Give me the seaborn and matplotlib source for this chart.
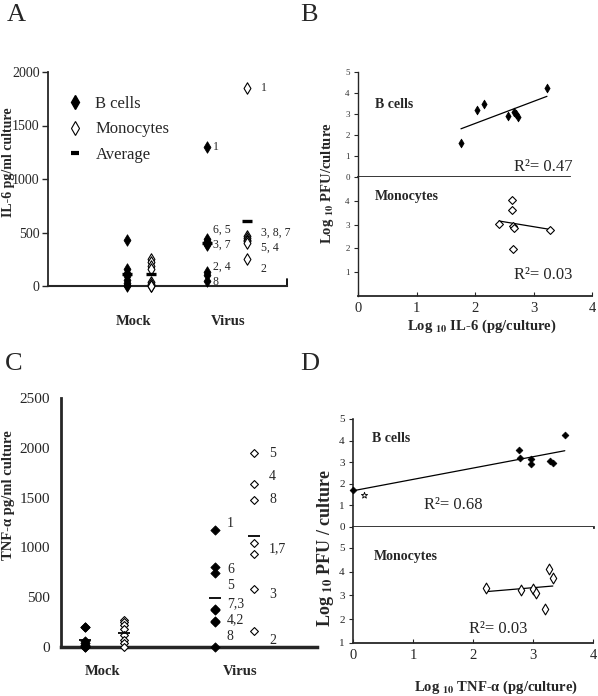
import matplotlib
matplotlib.use("Agg")
import matplotlib.pyplot as plt
from matplotlib.lines import Line2D
import numpy as np
import pandas as pd
import seaborn as sns

sns.set_style("ticks")
plt.rcParams["font.family"] = ["Liberation Serif", "DejaVu Serif"]
plt.rcParams["mathtext.fontset"] = "stix"
plt.rcParams["mathtext.default"] = "bf"

W, H = 598, 696

# ---- A: IL-6 pg/ml culture ----
il6_mock_b = [430, 160, 120, 90, 60, 30, 10, 0]
il6_mock_mono = [250, 220, 190, 160, 40, 20, 0, 0]
il6_virus_b = [1300, 440, 420, 390, 380, 130, 100, 50]
il6_virus_mono = [1850, 470, 450, 430, 420, 400, 250]
il6_b_tags = ["1", "6, 5", "3, 7", "2, 4", "8"]
il6_mono_tags = ["1", "3, 8, 7", "5, 4", "2"]

# ---- C: TNF-alpha pg/ml culture ----
tnf_mock_b = [205, 200, 60, 40, 20, 10, 0, 0]
tnf_mock_mono = [270, 250, 220, 180, 120, 70, 40, 0]
tnf_virus_b = [1175, 800, 740, 380, 370, 260, 250, 0]
tnf_virus_mono = [1950, 1640, 1480, 1040, 930, 580, 160]
tnf_b_tags = ["1", "6", "5", "7,3", "4,2", "8"]
tnf_mono_tags = ["5", "4", "8", "1,7", "3", "2"]

# ---- B: log PFU vs log IL-6 ----
b_il6_x = [1.76, 2.03, 2.15, 2.57, 2.66, 2.70, 2.74, 3.23]
b_il6_y = [1.63, 3.19, 3.50, 2.90, 3.10, 3.00, 2.88, 4.22]
m_il6_x = [2.41, 2.64, 2.64, 2.65, 2.66, 2.65, 3.28]
m_il6_y = [3.03, 4.03, 3.61, 2.96, 2.85, 1.97, 2.78]

# ---- D: log PFU vs log TNF-alpha ----
b_tnf_x = [0.0, 2.76, 2.78, 2.96, 2.96, 3.29, 3.33, 3.53]
b_tnf_y = [1.69, 3.55, 3.19, 3.15, 2.92, 3.04, 2.96, 4.27]
m_tnf_x = [2.22, 2.80, 3.00, 3.05, 3.20, 3.26, 3.33]
m_tnf_y = [3.32, 3.22, 3.29, 3.12, 2.44, 4.13, 3.74]
star_x = [0.19]
star_y = [1.49]


def rect(x0, y0, x1, y1):
    return [x0 / W, 1 - y1 / H, (x1 - x0) / W, (y1 - y0) / H]


def fxy(x, y):
    return x / W, 1 - y / H


fig = plt.figure(figsize=(W / 100, H / 100), dpi=100)


def dot_panel(ax, groups, xpos, marker, s_b, s_m, avg_size, avg_lw):
    rows = []
    for (grp, cell), vals in groups.items():
        for v in vals:
            rows.append((grp, cell, v))
    df = pd.DataFrame(rows, columns=["group", "cell", "value"])
    df["x"] = [xpos[(g, c)] for g, c in zip(df["group"], df["cell"])]
    avg = df.groupby(["group", "cell"], as_index=False)["value"].mean()
    avg["x"] = [xpos[(g, c)] for g, c in zip(avg["group"], avg["cell"])]
    sns.scatterplot(data=df[df["cell"] == "B cells"], x="x", y="value", marker=marker,
                    s=s_b, color="black", edgecolor="black", linewidth=0.6,
                    clip_on=False, zorder=3, legend=False, ax=ax)
    sns.scatterplot(data=df[df["cell"] == "Monocytes"], x="x", y="value", marker=marker,
                    s=s_m, color="white", edgecolor="black", linewidth=0.8,
                    clip_on=False, zorder=3, legend=False, ax=ax)
    ax.scatter(avg["x"], avg["value"], marker="_", s=avg_size, linewidths=avg_lw,
               color="black", zorder=4, clip_on=False)
    sns.despine(ax=ax)


# ---------------- panel A ----------------
axA = fig.add_axes(rect(48, 72, 287, 286))
posA = {("Mock", "B cells"): 3.3, ("Mock", "Monocytes"): 4.31,
        ("Virus", "B cells"): 6.65, ("Virus", "Monocytes"): 8.33}
dot_panel(axA, {("Mock", "B cells"): il6_mock_b, ("Mock", "Monocytes"): il6_mock_mono,
                ("Virus", "B cells"): il6_virus_b, ("Virus", "Monocytes"): il6_virus_mono},
          posA, "d", 34, 34, 50, 2.4)
axA.set_xlim(0, 10)
axA.set_ylim(0, 2000)
axA.set_yticks([0, 500, 1000, 1500, 2000])
axA.tick_params(axis="y", length=4, width=1, labelsize=10, pad=2)
axA.set_xticks([3.6, 7.55], ["Mock", "Virus"], fontweight="bold", fontsize=10.5)
axA.tick_params(axis="x", length=0, pad=21)
axA.spines["left"].set_linewidth(1.3)
axA.spines["bottom"].set_linewidth(1.5)
axA.axvline(10, ymin=0, ymax=0.035, color="black", lw=1.3, clip_on=False)
axA.set_xlabel("")
axA.set_ylabel("IL-6 pg/ml culture", fontweight="bold", fontsize=10)
axA.yaxis.set_label_coords(-0.14, 0.58)
for lab, y in zip(il6_b_tags, [1300, 523, 383, 178, 37]):
    axA.text(6.9, y, lab, fontsize=8.5, va="center")
for lab, y in zip(il6_mono_tags, [1850, 495, 355, 159]):
    axA.text(8.9, y, lab, fontsize=8.5, va="center")
handles = [Line2D([], [], marker="d", ls="", color="black", ms=7),
           Line2D([], [], marker="d", ls="", mfc="white", mec="black", mew=0.8, ms=7),
           Line2D([], [], marker="_", ls="", color="black", ms=6, mew=3)]
axA.legend(handles, ["B cells", "Monocytes", "Average"], loc="upper left",
           bbox_to_anchor=(0.08, 0.887), frameon=False, fontsize=12,
           handlelength=1, handletextpad=0.7, labelspacing=0.55,
           borderpad=0, borderaxespad=0)

# ---------------- panel C ----------------
axC = fig.add_axes(rect(61, 398, 317, 647))
posC = {("Mock", "B cells"): 0.94, ("Mock", "Monocytes"): 2.46,
        ("Virus", "B cells"): 6.02, ("Virus", "Monocytes"): 7.54}
dot_panel(axC, {("Mock", "B cells"): tnf_mock_b, ("Mock", "Monocytes"): tnf_mock_mono,
                ("Virus", "B cells"): tnf_virus_b, ("Virus", "Monocytes"): tnf_virus_mono},
          posC, "D", 22, 16, 85, 1.3)
axC.set_xlim(0, 10)
axC.set_ylim(0, 2500)
axC.set_yticks([0, 500, 1000, 1500, 2000, 2500])
axC.tick_params(axis="y", length=0, labelsize=11, pad=8)
axC.set_xticks([1.64, 7.0], ["Mock", "Virus"], fontweight="bold", fontsize=10.5)
axC.tick_params(axis="x", length=0, pad=13)
axC.spines["left"].set_linewidth(2)
axC.spines["bottom"].set_linewidth(2.5)
axC.set_xlabel("")
axC.set_ylabel("TNF-α pg/ml culture", fontweight="bold", fontsize=10.5)
axC.yaxis.set_label_coords(-0.18, 0.61)
for lab, y in zip(tnf_b_tags, [1242, 780, 622, 438, 271, 104]):
    axC.text(6.48, y, lab, fontsize=10, va="center")
for lab, y in zip(tnf_mono_tags, [1938, 1710, 1476, 991, 529, 63]):
    axC.text(8.13, y, lab, fontsize=10, va="center")


def reg_pair(ax_top, ax_bot, bx, by, mx, my, b_marker, s_b, m_marker, s_m):
    sns.regplot(x=bx, y=by, ci=None, scatter=False, ax=ax_top,
                line_kws=dict(color="black", lw=0.9))
    sns.scatterplot(x=bx, y=by, marker=b_marker, s=s_b, color="black",
                    edgecolor="black", linewidth=0.5, clip_on=False, zorder=3, ax=ax_top)
    sns.regplot(x=mx, y=my, ci=None, scatter=False, ax=ax_bot,
                line_kws=dict(color="black", lw=0.9))
    sns.scatterplot(x=mx, y=my, marker=m_marker, s=s_m, color="white",
                    edgecolor="black", linewidth=0.8, clip_on=False, zorder=3, ax=ax_bot)
    for ax in (ax_top, ax_bot):
        ax.set_xlim(0, 4)
        sns.despine(ax=ax)
        ax.set_xlabel("")
        ax.set_ylabel("")
    ax_top.set_xticks([])
    ax_bot.set_xticks([0, 1, 2, 3, 4])
    ax_bot.tick_params(axis="x", direction="in", length=3, labelsize=10.5, pad=4)


# ---------------- panel B ----------------
axBt = fig.add_axes(rect(358, 72, 592, 177))
axBb = fig.add_axes(rect(358, 177, 592, 296))
reg_pair(axBt, axBb, b_il6_x, b_il6_y, m_il6_x, m_il6_y, "d", 20, "D", 16)
axBt.set_ylim(0, 5)
axBt.set_yticks([0, 1, 2, 3, 4, 5])
axBb.set_ylim(0, 5)
axBb.set_yticks([1, 2, 3, 4])
for ax in (axBt, axBb):
    ax.tick_params(axis="y", length=3, width=0.8, labelsize=6.5, labelcolor="#333333", pad=3)
    ax.spines["left"].set_linewidth(1.0)
axBt.spines["bottom"].set_bounds(0, 3.62)
axBt.spines["bottom"].set_linewidth(1.3)
axBb.spines["bottom"].set_linewidth(1.3)
axBt.text(0.29, 3.43, "B cells", fontweight="bold", fontsize=10, va="center")
axBb.text(0.29, 4.2, "Monocytes", fontweight="bold", fontsize=10, va="center")
axBt.text(3.16, 0.48, "R²= 0.47", fontsize=12, ha="center", va="center")
axBb.text(3.16, 0.875, "R²= 0.03", fontsize=12, ha="center", va="center")
fig.text(*fxy(328, 183), "Log $_{10}$ PFU/culture", rotation=90, fontweight="bold",
         fontsize=10.5, ha="center", va="center")
fig.text(*fxy(482, 326), "Log $_{10}$ IL-6 (pg/culture)", fontweight="bold",
         fontsize=10.5, ha="center", va="center")

# ---------------- panel D ----------------
axDt = fig.add_axes(rect(353, 419, 593, 527))
axDb = fig.add_axes(rect(353, 527, 593, 643))
reg_pair(axDt, axDb, b_tnf_x, b_tnf_y, m_tnf_x, m_tnf_y, "D", 12, "d", 30)
axDt.scatter(star_x, star_y, marker="*", s=22, facecolor="white",
             edgecolor="black", linewidths=0.6, zorder=3)
axDt.set_ylim(0, 5)
axDt.set_yticks([0, 1, 2, 3, 4, 5])
axDb.set_ylim(1, 5.88)
axDb.set_yticks([1, 2, 3, 4, 5])
for ax in (axDt, axDb):
    ax.tick_params(axis="y", length=3, width=0.8, labelsize=8, pad=3)
    ax.spines["left"].set_linewidth(1.2)
axDt.spines["bottom"].set_linewidth(2)
axDb.spines["bottom"].set_linewidth(1.3)
axDt.text(0.32, 4.12, "B cells", fontweight="bold", fontsize=10, va="center")
axDb.text(0.34, 4.62, "Monocytes", fontweight="bold", fontsize=10, va="center")
axDt.text(1.67, 1.02, "R²= 0.68", fontsize=12, ha="center", va="center")
axDb.text(2.42, 1.59, "R²= 0.03", fontsize=12, ha="center", va="center")
fig.text(*fxy(325, 548), "Log $_{10}$ PFU / culture", rotation=90, fontweight="bold",
         fontsize=13, ha="center", va="center")
fig.text(*fxy(496, 687), "Log $_{10}$ TNF-α (pg/culture)", fontweight="bold",
         fontsize=10.5, ha="center", va="center")

# panel letters
for letter, (x, y) in zip("ABCD", [(7, 15), (300, 15), (5, 364), (300, 364)]):
    fig.text(*fxy(x, y), letter, fontsize=19, ha="left", va="center")

fig.savefig("out.png", dpi=100)
